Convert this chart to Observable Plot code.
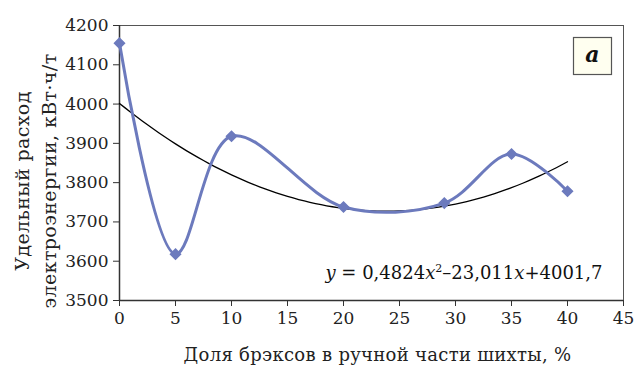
<!DOCTYPE html>
<html>
<head>
<meta charset="utf-8">
<script src="https://cdn.jsdelivr.net/npm/d3@7"></script>
<script src="https://cdn.jsdelivr.net/npm/@observablehq/plot@0.6"></script>
<style>
  html, body { margin: 0; padding: 0; background: #fff; }
</style>
</head>
<body>
<div id="chart"></div>
<script>
// Data
const shares = [0, 5, 10, 20, 29, 35, 40];           // Доля брэксов, %
const consumption = [4155, 3618, 3918, 3738, 3748, 3873, 3778]; // кВт·ч/т
// Trendline coefficients shown on the chart: y = a x² + b x + c
const trendCoef = [0.4824, -23.011, 4001.7];
const xTicks = [0, 5, 10, 15, 20, 25, 30, 35, 40, 45];
const yTicks = [3500, 3600, 3700, 3800, 3900, 4000, 4100, 4200];

const points = shares.map((x, i) => ({x, y: consumption[i]}));
const trend = d3.range(0, 40.01, 0.5).map(x => ({x, y: trendCoef[0]*x*x + trendCoef[1]*x + trendCoef[2]}));

const font = "DejaVu Serif";
const lineColor = "#6c7abd";

const plot = Plot.plot({
  width: 639,
  height: 366,
  marginLeft: 119,
  marginRight: 16,
  marginTop: 25,
  marginBottom: 66,
  style: {fontFamily: font, fontSize: "17px", color: "#222", background: "#fff"},
  x: {domain: [0, 45]},
  y: {domain: [3500, 4200]},
  marks: [
    Plot.frame({stroke: "#555", strokeWidth: 1}),
    Plot.axisX({ticks: xTicks, tickSize: 6, tickPadding: 5, label: null, stroke: "#333", fontSize: 17, tickFormat: d3.format("d")}),
    Plot.axisY({ticks: yTicks, tickSize: 6, tickPadding: 5, label: null, stroke: "#333", fontSize: 17, tickFormat: d3.format("d")}),
    Plot.ruleX([0], {stroke: "#333", strokeWidth: 1.5}),
    Plot.ruleY([3500], {stroke: "#333", strokeWidth: 1.5}),
    Plot.line(trend, {x: "x", y: "y", stroke: "#000", strokeWidth: 1.3}),
    Plot.line(points, {x: "x", y: "y", stroke: lineColor, strokeWidth: 3, curve: "catmull-rom"}),
    Plot.dot(points, {x: "x", y: "y", symbol: "diamond2", r: 4.5, fill: lineColor, stroke: lineColor}),
    Plot.text(["Удельный расход\nэлектроэнергии, кВт·ч/т"], {
      frameAnchor: "left", textAnchor: "middle", lineAnchor: "middle", rotate: -90, dx: -86, dy: 18, lineHeight: 1.45,
      fontSize: 19, fill: "#222", className: "ylab"
    }),
    Plot.text(["Доля брэксов в ручной части шихты, %"], {
      frameAnchor: "bottom", textAnchor: "middle", lineAnchor: "middle", dy: 55, dx: 6, fontSize: 18, fill: "#222",
      className: "xlab"
    }),
    Plot.text(["EQ"], {
      frameAnchor: "bottom-right", dx: -21, dy: -22, textAnchor: "end", lineAnchor: "bottom", fontSize: 18, fill: "#111",
      className: "equation"
    })
  ]
});

d3.select(plot).selectAll(".xlab text").style("letter-spacing", "0.3px");
d3.select(plot).selectAll(".ylab text").style("letter-spacing", "0.4px");

// Rich formatting for the equation (italic variables, superscript)
const eq = d3.select(plot).select(".equation text");
eq.text(null);
const parts = [
  ["y", "it"], [" = 0,4824", ""], ["x", "it"], ["2", "sup"], ["–23,011", "down"],
  ["x", "it"], ["+4001,7", ""]
];
parts.forEach(([t, kind]) => {
  const ts = eq.append("tspan").text(t);
  if (kind === "it") ts.attr("font-style", "italic");
  if (kind === "sup") ts.attr("font-size", "11px").attr("dy", "-7");
  if (kind === "down") ts.attr("dy", "7");
});

// Panel label box "а"
const svg = d3.select(plot);
const g = svg.append("g");
g.append("rect").attr("x", 573.5).attr("y", 37.5).attr("width", 38).attr("height", 37)
  .attr("fill", "#fffff0").attr("stroke", "#555").attr("stroke-width", 1.2);
g.append("text").attr("x", 592.5).attr("y", 62).attr("text-anchor", "middle")
  .attr("font-family", font).attr("font-size", "22px").attr("font-weight", "bold")
  .attr("font-style", "italic").attr("fill", "#111").text("а");

document.getElementById("chart").appendChild(plot);
</script>
</body>
</html>
